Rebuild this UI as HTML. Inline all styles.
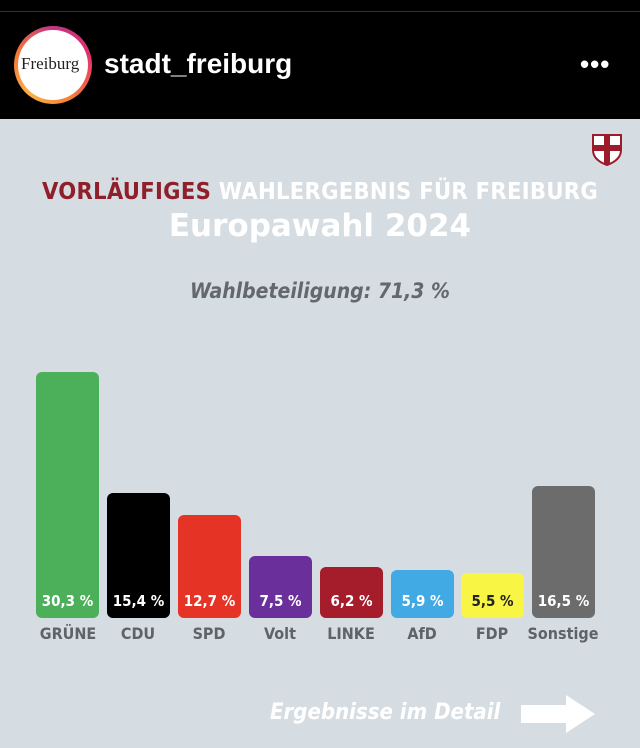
<!DOCTYPE html>
<html><head><meta charset="utf-8"><style>
*{margin:0;padding:0;box-sizing:border-box}
body{width:640px;height:748px;background:#d6dde2;position:relative;overflow:hidden;font-family:"Liberation Sans",sans-serif}
.hdr{position:absolute;left:0;top:0;width:640px;height:119px;background:#000}
.line{position:absolute;left:0;top:11px;width:640px;height:1px;background:#333}
.av{position:absolute;left:14px;top:26px;width:78px;height:78px;border-radius:50%;background:conic-gradient(#c13584,#e1306c,#f77737,#fcaf45,#f77737,#c13584);}
.av i{position:absolute;left:4px;top:4px;width:70px;height:70px;border-radius:50%;background:#fff}
.av b{position:absolute;left:7px;top:28px;font:17px "Liberation Serif",serif;color:#222;font-weight:normal}
.name{position:absolute;left:104px;top:48px;color:#fff;font-weight:bold;font-size:28px}
.dots{position:absolute;left:580px;top:54px;color:#fff;font-size:26px;letter-spacing:1px;line-height:20px;font-weight:bold}
.c{position:absolute;width:640px;text-align:center;font-family:"DejaVu Sans",sans-serif;font-weight:bold}
.bar{position:absolute;bottom:130px;width:63px;border-radius:6px}
.v{position:absolute;top:592px;width:63px;text-align:center;color:#fff;font:bold 15px "DejaVu Sans Condensed","DejaVu Sans",sans-serif}
.l{position:absolute;top:624px;width:80px;text-align:center;color:#5f6266;font:bold 16px "DejaVu Sans Condensed","DejaVu Sans",sans-serif}
</style></head><body>
<div class="hdr"></div><div class="line"></div>
<div class="av"><i></i><b>Freiburg</b></div>
<div class="name">stadt_freiburg</div>
<div class="dots">•••</div>
<svg style="position:absolute;left:592px;top:134px" width="30" height="32" viewBox="0 0 30 32"><path d="M1 1H29V16Q29 26 15 31Q1 26 1 16Z" fill="#fff" stroke="#9b1b2a" stroke-width="2"/><rect x="12" y="2" width="6" height="28" fill="#9b1b2a"/><rect x="2" y="11" width="26" height="6" fill="#9b1b2a"/></svg>
<div class="c" style="top:177px;font-size:23.5px;color:#fff;font-family:'DejaVu Sans Condensed','DejaVu Sans',sans-serif;letter-spacing:0.3px"><span style="color:#8e1f2b">VORLÄUFIGES</span> WAHLERGEBNIS FÜR FREIBURG</div>
<div class="c" style="top:208px;font-size:31px;color:#fff">Europawahl 2024</div>
<div class="c" style="top:279px;font-size:21px;color:#64676b;font-style:italic;font-family:'DejaVu Sans Condensed','DejaVu Sans',sans-serif">Wahlbeteiligung: 71,3 %</div>
<div class="bar" style="left:36px;top:372px;background:#4caf5a"></div>
<div class="bar" style="left:107px;top:493px;background:#000"></div>
<div class="bar" style="left:178px;top:515px;background:#e53325"></div>
<div class="bar" style="left:249px;top:556px;background:#6a2f9a"></div>
<div class="bar" style="left:320px;top:567px;background:#a51c2a"></div>
<div class="bar" style="left:391px;top:570px;background:#41a9e4"></div>
<div class="bar" style="left:461px;top:573px;background:#f8f545"></div>
<div class="bar" style="left:532px;top:486px;background:#6c6c6c"></div>
<div class="v" style="left:36px">30,3 %</div>
<div class="v" style="left:107px">15,4 %</div>
<div class="v" style="left:178px">12,7 %</div>
<div class="v" style="left:249px">7,5 %</div>
<div class="v" style="left:320px">6,2 %</div>
<div class="v" style="left:391px">5,9 %</div>
<div class="v" style="left:461px;color:#222">5,5 %</div>
<div class="v" style="left:532px">16,5 %</div>
<div class="l" style="left:28px">GRÜNE</div>
<div class="l" style="left:98px">CDU</div>
<div class="l" style="left:169px">SPD</div>
<div class="l" style="left:240px">Volt</div>
<div class="l" style="left:311px">LINKE</div>
<div class="l" style="left:382px">AfD</div>
<div class="l" style="left:452px">FDP</div>
<div class="l" style="left:523px">Sonstige</div>
<div style="position:absolute;left:270px;top:700px;color:#fff;font:italic bold 22px 'DejaVu Sans Condensed','DejaVu Sans',sans-serif">Ergebnisse im Detail</div>
<svg style="position:absolute;left:521px;top:695px" width="76" height="38" viewBox="0 0 76 38"><path d="M0 10H45V0L74 19L45 38V28H0Z" fill="#fff"/></svg>
</body></html>
